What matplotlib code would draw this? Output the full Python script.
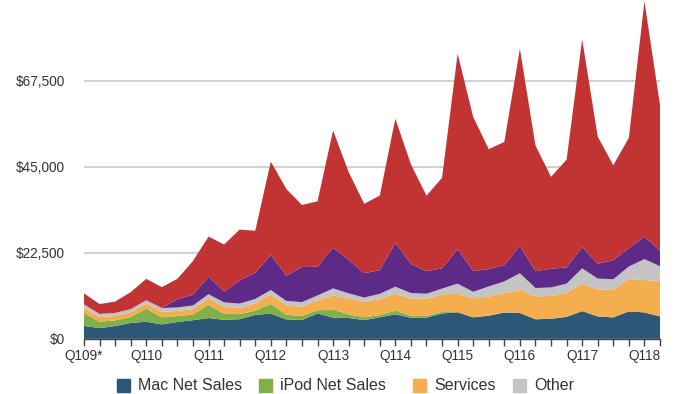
import numpy as np
import matplotlib
matplotlib.use('Agg')
import matplotlib.pyplot as plt
from matplotlib.patches import Rectangle

# fiscal quarters Q1 2009 .. Q2 2018, revenue in $M
quarters = ['Q%d%02d' % (q, y) for y in range(9, 19) for q in range(1, 5)][:38]

mac = [3360, 2800, 3330, 4150,
       4457, 3760, 4399, 4863,
       5428, 4976, 5126, 6253,
       6598, 5073, 4933, 6617,
       5519, 5447, 4893, 5624,
       6395, 5519, 5540, 6625,
       6944, 5615, 6030, 6882,
       6746, 5107, 5239, 5739,
       7244, 5844, 5592, 7170,
       6895, 5848]
ipod = [3371, 1665, 1492, 1563,
        3391, 1861, 1545, 1475,
        3425, 1600, 1325, 1103,
        2528, 1207, 1060, 820,
        2143, 962, 733, 573,
        973, 461, 442, 410,
        0, 0, 0, 0,
        0, 0, 0, 0,
        0, 0, 0, 0,
        0, 0]
services = [1310, 1200, 1150, 1200,
            1350, 1460, 1350, 1430,
            1690, 1770, 1660, 1840,
            2440, 2430, 2420, 2610,
            3687, 4114, 3990, 4260,
            4397, 4573, 4485, 4608,
            4799, 4996, 5028, 5086,
            6056, 5991, 5976, 6325,
            7172, 7041, 7266, 8501,
            8471, 9190]
other = [960, 850, 800, 850,
         907, 973, 906, 961,
         1122, 1187, 1103, 1226,
         1197, 1196, 1194, 1284,
         1829, 1379, 1179, 1319,
         1863, 1419, 1325, 1486,
         2689, 1689, 2641, 3048,
         4351, 2189, 2219, 2373,
         4024, 2873, 2735, 3231,
         5489, 3954]
ipad = [0, 0, 0, 0,
        0, 0, 2166, 2792,
        4608, 2836, 6046, 6868,
        9153, 6590, 9171, 7510,
        10674, 8746, 6374, 6186,
        11468, 7610, 5889, 5316,
        8985, 5428, 4538, 4276,
        7084, 4413, 4876, 4255,
        5533, 3889, 4969, 4831,
        5862, 4113]
iphone = [2880, 2569, 2962, 4444,
          5578, 5445, 5334, 8822,
          10468, 12298, 13311, 10980,
          24417, 22690, 16245, 17125,
          30660, 22955, 18154, 19510,
          32498, 26064, 19751, 23678,
          51182, 40282, 31368, 32209,
          51635, 32857, 24048, 28160,
          54378, 33249, 24846, 28846,
          61576, 38032]

series_names = ['Mac Net Sales', 'iPod Net Sales', 'Services', 'Other', 'iPad', 'iPhone']
colors = ['#2c5777', '#7fb04a', '#f4ae4e', '#c4c4c4', '#5e2a88', '#c23333']
yticks = [0, 22500, 45000, 67500]

plt.rcParams['font.family'] = ['Liberation Sans', 'DejaVu Sans']

fig = plt.figure(figsize=(7.0, 3.94), dpi=100)
ax = fig.add_axes([84 / 700, 1 - 338.8 / 394, (660 - 84) / 700, 338.8 / 394])

x = np.arange(len(quarters))
ax.stackplot(x, mac, ipod, services, other, ipad, iphone,
             colors=colors, linewidth=0, zorder=2)

ax.set_xlim(0, len(quarters) - 1)
ax.set_ylim(0, 338.8 * 261.6)

ax.set_yticks(yticks)
ax.set_yticklabels(['$%s' % format(v, ',') for v in yticks])
ax.yaxis.grid(True, color='#c8c8c8', linewidth=1.2, zorder=0)
ax.tick_params(axis='y', length=0, pad=14, labelsize=9.8, labelcolor='#333333')

ax.set_xticks(x, minor=True)
ax.set_xticks(x[::4])
ax.set_xticklabels([q + ('*' if i == 0 else '') for i, q in enumerate(quarters[::4])])
ax.tick_params(axis='x', which='both', direction='out', length=5, width=1,
               color='#444444', labelsize=9.8, labelcolor='#333333', pad=2)

for s in ['top', 'right', 'left']:
    ax.spines[s].set_visible(False)
ax.spines['bottom'].set_color('#444444')
ax.spines['bottom'].set_linewidth(1.0)
ax.spines['bottom'].set_zorder(3)
ax.set_axisbelow(True)

# legend row, sits at the very bottom edge
leg_x = [117, 259, 413, 513]
for px, name, c in zip(leg_x, series_names[:4], colors[:4]):
    fig.patches.append(Rectangle((px / 700, 2 / 394), 13 / 700, 13 / 394,
                                 transform=fig.transFigure, color=c))
    fig.text((px + 21) / 700, 9 / 394, name, fontsize=11.5, color='#333333',
             ha='left', va='center')

fig.savefig('out.png', dpi=100)
